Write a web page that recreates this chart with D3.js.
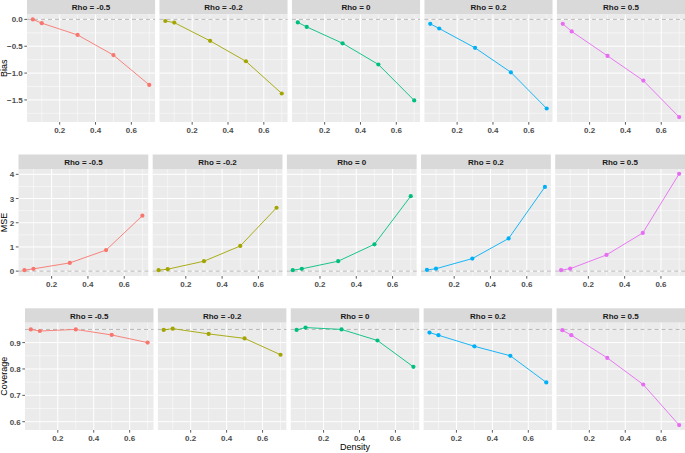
<!DOCTYPE html>
<html>
<head>
<meta charset="utf-8">
<script src="https://cdn.jsdelivr.net/npm/d3@7"></script>
<style>
  body { margin: 0; background: #fff; }
  text { font-family: "Liberation Sans", Arial, sans-serif; }
</style>
</head>
<body>
<script>
const WIDTH = 685
const HEIGHT = 453

// data
const density = [0.05, 0.1, 0.3, 0.5, 0.7]
const rhoLabels = ["Rho = -0.5", "Rho = -0.2", "Rho = 0", "Rho = 0.2", "Rho = 0.5"]
const colours = ["#F8766D", "#A3A500", "#00BF7D", "#00B0F6", "#E76BF3"]

const bias = [
    [-0.00, -0.07, -0.29, -0.665, -1.22],
    [-0.03, -0.06, -0.40, -0.78, -1.38],
    [-0.056, -0.14, -0.445, -0.84, -1.51],
    [-0.083, -0.17, -0.53, -0.985, -1.66],
    [-0.083, -0.225, -0.68, -1.14, -1.82]
]
const mse = [
    [0.04, 0.095, 0.34, 0.87, 2.29],
    [0.04, 0.08, 0.41, 1.04, 2.62],
    [0.04, 0.095, 0.41, 1.11, 3.10],
    [0.05, 0.10, 0.52, 1.35, 3.48],
    [0.04, 0.10, 0.67, 1.58, 4.02]
]
const coverage = [
    [0.95, 0.944, 0.95, 0.929, 0.90],
    [0.948, 0.953, 0.933, 0.916, 0.854],
    [0.948, 0.957, 0.95, 0.908, 0.808],
    [0.938, 0.928, 0.886, 0.850, 0.749],
    [0.947, 0.928, 0.842, 0.741, 0.587]
]

const biasTicks = [0, -0.5, -1, -1.5]
const mseTicks = [0, 1, 2, 3, 4]
const coverageTicks = [0.6, 0.7, 0.8, 0.9]
const xTicks = [0.2, 0.4, 0.6]
const xMinor = [0.1, 0.3, 0.5, 0.7]

const rows = [
    { title: "Bias", values: bias, ref: 0, ticks: biasTicks, fmt: d3.format(".1f"),
      left: 27, stripTop: 0, top: 14.5, bottom: 122 },
    { title: "MSE", values: mse, ref: 0, ticks: mseTicks, fmt: d3.format("d"),
      left: 18.5, stripTop: 154.5, top: 169, bottom: 276 },
    { title: "Coverage", values: coverage, ref: 0.95, ticks: coverageTicks, fmt: d3.format(".1f"),
      left: 25, stripTop: 308.3, top: 322.7, bottom: 430 }
]

const GAP = 4.4
const RIGHT = 685

const svg = d3
    .select("body")
    .append("svg")
    .attr("width", WIDTH)
    .attr("height", HEIGHT)

// ggplot style 5% expansion
const expand = ext => {
    const r = ext[1] - ext[0]
    return [ext[0] - 0.05 * r, ext[1] + 0.05 * r]
}

const xDomain = expand(d3.extent(density))

rows.forEach(row => {
    const all = row.values.flat().concat([row.ref])
    const y = d3.scaleLinear()
        .domain(expand(d3.extent(all)))
        .range([row.bottom, row.top])

    const panelW = (RIGHT - row.left - GAP * 4) / 5
    const tickStep = row.ticks[1] - row.ticks[0]
    const minorTicks = row.ticks.map(t => t + tickStep / 2)
        .concat([row.ticks[0] - tickStep / 2])
        .filter(t => t >= d3.min(y.domain()) && t <= d3.max(y.domain()))

    row.values.forEach((vals, i) => {
        const x0 = row.left + i * (panelW + GAP)
        const x = d3.scaleLinear().domain(xDomain).range([x0, x0 + panelW])
        const g = svg.append("g")

        // strip
        g.append("rect")
            .attr("x", x0).attr("y", row.stripTop)
            .attr("width", panelW).attr("height", row.top - row.stripTop)
            .attr("fill", "#D9D9D9")
        g.append("text")
            .attr("x", x0 + panelW / 2)
            .attr("y", (row.stripTop + row.top) / 2 + 3)
            .attr("text-anchor", "middle")
            .attr("font-size", "8px")
            .attr("font-weight", "bold")
            .attr("fill", "#1A1A1A")
            .text(rhoLabels[i])

        // panel
        g.append("rect")
            .attr("x", x0).attr("y", row.top)
            .attr("width", panelW).attr("height", row.bottom - row.top)
            .attr("fill", "#EBEBEB")

        g.selectAll(".ymin").data(minorTicks).enter().append("line")
            .attr("x1", x0).attr("x2", x0 + panelW)
            .attr("y1", d => y(d)).attr("y2", d => y(d))
            .attr("stroke", "#fff").attr("stroke-width", 0.5)
        g.selectAll(".xmin").data(xMinor).enter().append("line")
            .attr("y1", row.top).attr("y2", row.bottom)
            .attr("x1", d => x(d)).attr("x2", d => x(d))
            .attr("stroke", "#fff").attr("stroke-width", 0.5)
        g.selectAll(".ymaj").data(row.ticks).enter().append("line")
            .attr("x1", x0).attr("x2", x0 + panelW)
            .attr("y1", d => y(d)).attr("y2", d => y(d))
            .attr("stroke", "#fff").attr("stroke-width", 1)
        g.selectAll(".xmaj").data(xTicks).enter().append("line")
            .attr("y1", row.top).attr("y2", row.bottom)
            .attr("x1", d => x(d)).attr("x2", d => x(d))
            .attr("stroke", "#fff").attr("stroke-width", 1)

        // reference line
        g.append("line")
            .attr("x1", x0).attr("x2", x0 + panelW)
            .attr("y1", y(row.ref)).attr("y2", y(row.ref))
            .attr("stroke", "#A6A6A6").attr("stroke-width", 0.8)
            .attr("stroke-dasharray", "4,3")

        // series
        const pts = density.map((d, j) => [d, vals[j]])
        g.append("path")
            .datum(pts)
            .attr("fill", "none")
            .attr("stroke", colours[i])
            .attr("stroke-width", 0.9)
            .attr("d", d3.line().x(d => x(d[0])).y(d => y(d[1])))
        g.selectAll(".pt").data(pts).enter().append("circle")
            .attr("cx", d => x(d[0])).attr("cy", d => y(d[1]))
            .attr("r", 2.1)
            .attr("fill", colours[i])

        // x axis
        g.selectAll(".xt").data(xTicks).enter().append("line")
            .attr("x1", d => x(d)).attr("x2", d => x(d))
            .attr("y1", row.bottom).attr("y2", row.bottom + 2.7)
            .attr("stroke", "#333").attr("stroke-width", 0.8)
        g.selectAll(".xl").data(xTicks).enter().append("text")
            .attr("x", d => x(d)).attr("y", row.bottom + 10.8)
            .attr("text-anchor", "middle")
            .attr("font-size", "8px")
            .attr("font-weight", "bold")
            .attr("fill", "#4D4D4D")
            .text(d => d3.format(".1f")(d))

        // y axis on first panel
        if (i === 0) {
            g.selectAll(".yt").data(row.ticks).enter().append("line")
                .attr("x1", x0 - 2.7).attr("x2", x0)
                .attr("y1", d => y(d)).attr("y2", d => y(d))
                .attr("stroke", "#333").attr("stroke-width", 0.8)
            g.selectAll(".yl").data(row.ticks).enter().append("text")
                .attr("x", x0 - 4.2).attr("y", d => y(d) + 3)
                .attr("text-anchor", "end")
                .attr("font-size", "8px")
                .attr("font-weight", "bold")
                .attr("fill", "#4D4D4D")
                .text(d => row.fmt(d))
            g.append("text")
                .attr("transform", `translate(7.2,${(row.top + row.bottom) / 2}) rotate(-90)`)
                .attr("text-anchor", "middle")
                .attr("font-size", "9px")
                .attr("fill", "#000")
                .text(row.title)
        }
    })
})

svg.append("text")
    .attr("x", (25 + RIGHT) / 2)
    .attr("y", 450)
    .attr("text-anchor", "middle")
    .attr("font-size", "9px")
    .attr("fill", "#000")
    .text("Density")
</script>
</body>
</html>
